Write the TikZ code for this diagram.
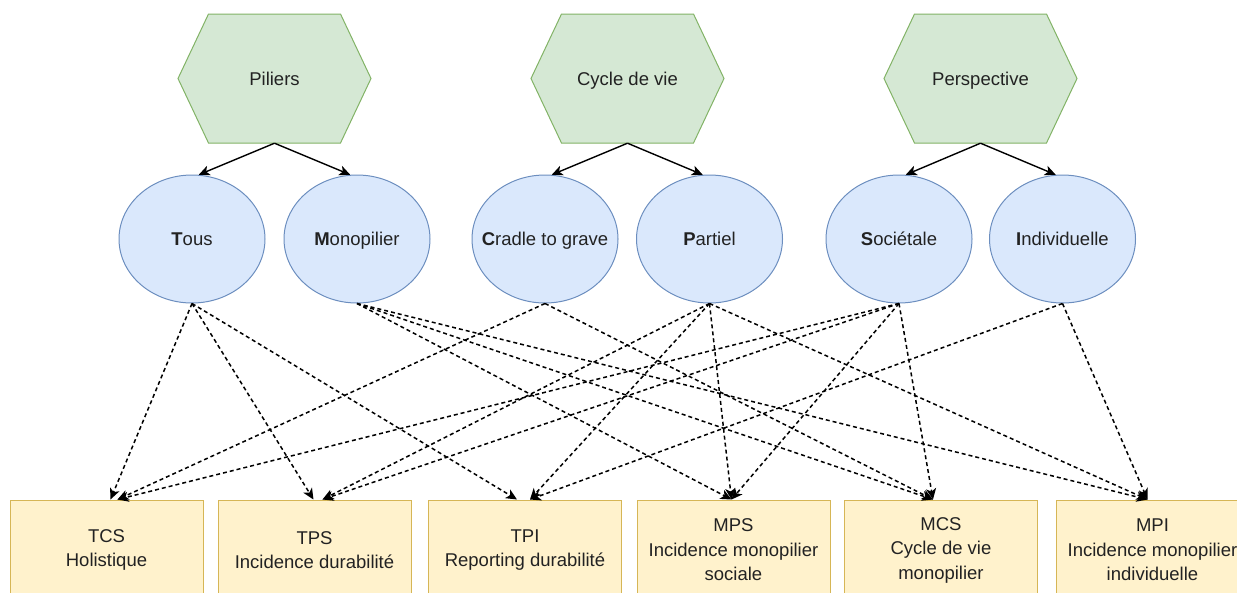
\documentclass[tikz,border=0pt]{standalone}
\usepackage{fontspec}
\setmainfont{Liberation Sans}
\usetikzlibrary{shapes.geometric,arrows.meta,calc}
\definecolor{hexfill}{HTML}{D5E8D4}
\definecolor{hexline}{HTML}{82B366}
\definecolor{ellfill}{HTML}{DAE8FC}
\definecolor{ellline}{HTML}{6C8EBF}
\definecolor{boxfill}{HTML}{FFF2CC}
\definecolor{boxline}{HTML}{D6B656}
\definecolor{txt}{HTML}{222222}
\newcommand\myhex[4]{%
  \draw[draw=hexline, fill=hexfill, line width=1pt] (#1-96.5,#2) -- (#1-66,#2-64.5) -- (#1+66,#2-64.5) -- (#1+96.5,#2) -- (#1+66,#2+64.5) -- (#1-66,#2+64.5) -- cycle;
  \node[hexnode] (#3) at (#1,#2) {#4};}
\newcommand\zbox[1]{\makebox[0pt]{#1}}
\begin{document}
\begin{tikzpicture}[x=1pt,y=-1pt,
  every node/.style={font=\fontsize{18.5}{24.5}\selectfont, text=txt},
  hexnode/.style={minimum width=193pt, minimum height=129pt, inner sep=0pt, text height=13.5pt, text depth=0pt},
  ellnode/.style={ellipse, draw=ellline, fill=ellfill, line width=1pt, minimum width=146pt, minimum height=128pt, inner sep=0pt, text height=13.5pt, text depth=0pt},
  boxnode/.style={rectangle, draw=boxline, fill=boxfill, line width=1pt, minimum width=193pt, minimum height=100pt, inner sep=0pt, align=center},
  solidarrow/.style={draw=black, line width=1.4pt, -{Stealth[length=11pt,width=10pt,inset=3pt]}},
  dasharrow/.style={draw=black, line width=1.5pt, dash pattern=on 4pt off 3pt, -{Stealth[length=11pt,width=10pt,inset=3pt]}}
]
\useasboundingbox (0,0) rectangle (1237,592);
\clip (0,0) rectangle (1237,592);

\myhex{274.5}{78.5}{pil}{Piliers}
\myhex{627.5}{78.5}{cyc}{Cycle de vie}
\myhex{980.5}{78.5}{per}{Perspective}

\node[ellnode] (tous) at (192,239) {\zbox{\textbf{T}ous}};
\node[ellnode] (mono) at (357,239) {\zbox{\textbf{M}onopilier}};
\node[ellnode] (cradle) at (545,239) {\zbox{\textbf{C}radle to grave}};
\node[ellnode] (partiel) at (709.5,239) {\zbox{\textbf{P}artiel}};
\node[ellnode] (soc) at (899,239) {\zbox{\textbf{S}ociétale}};
\node[ellnode] (indiv) at (1062.5,239) {\zbox{\textbf{I}ndividuelle}};

\node[boxnode] (tcs) at (106.5,550) {TCS\\Holistique};
\node[boxnode] (tps) at (314.5,550) {TPS\\Incidence durabilité};
\node[boxnode] (tpi) at (525,550) {TPI\\Reporting durabilité};
\node[boxnode] (mps) at (733.5,550) {MPS\\Incidence monopilier\\sociale};
\node[boxnode] (mcs) at (941,550) {MCS\\Cycle de vie\\monopilier};
\node[boxnode] (mpi) at (1152.5,550) {MPI\\Incidence monopilier\\individuelle};

\draw[solidarrow] (pil.south) -- (tous.84);
\draw[solidarrow] (pil.south) -- (mono.96);
\draw[solidarrow] (cyc.south) -- (cradle.84);
\draw[solidarrow] (cyc.south) -- (partiel.96);
\draw[solidarrow] (per.south) -- (soc.84);
\draw[solidarrow] (per.south) -- (indiv.96);

\draw[dasharrow] (tous.south) -- ($(tcs.north)+(4,0)$);
\draw[dasharrow] (cradle.south) -- ($(tcs.north)+(11,0)$);
\draw[dasharrow] (soc.south) -- ($(tcs.north)+(11,0)$);
\draw[dasharrow] (tous.south) -- ($(tps.north)+(-1,0)$);
\draw[dasharrow] (partiel.south) -- ($(tps.north)+(8,0)$);
\draw[dasharrow] (soc.south) -- ($(tps.north)+(8,0)$);
\draw[dasharrow] (tous.south) -- ($(tpi.north)+(-8,0)$);
\draw[dasharrow] (partiel.south) -- ($(tpi.north)+(5,0)$);
\draw[dasharrow] (indiv.south) -- ($(tpi.north)+(5,0)$);
\draw[dasharrow] (mono.south) -- ($(mps.north)+(-2,0)$);
\draw[dasharrow] (partiel.south) -- ($(mps.north)+(-2,0)$);
\draw[dasharrow] (soc.south) -- ($(mps.north)+(-2,0)$);
\draw[dasharrow] (mono.south) -- ($(mcs.north)+(-8,0)$);
\draw[dasharrow] (cradle.south) -- ($(mcs.north)+(-8,0)$);
\draw[dasharrow] (soc.south) -- ($(mcs.north)+(-8,0)$);
\draw[dasharrow] (mono.south) -- ($(mpi.north)+(-5,0)$);
\draw[dasharrow] (partiel.south) -- ($(mpi.north)+(-5,0)$);
\draw[dasharrow] (indiv.south) -- ($(mpi.north)+(-5,0)$);
\end{tikzpicture}
\end{document}
